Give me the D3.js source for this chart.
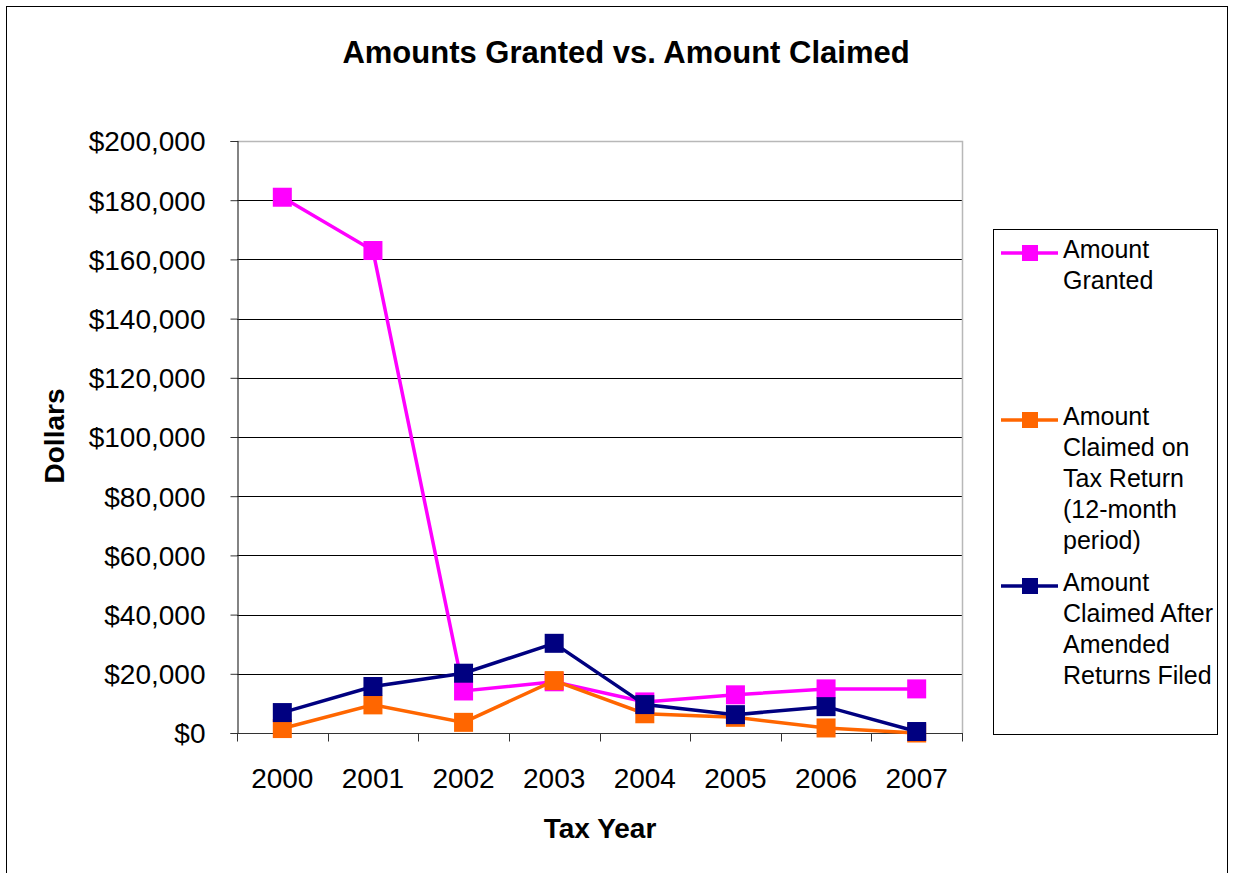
<!DOCTYPE html>
<html>
<head>
<meta charset="utf-8">
<script src="https://cdn.jsdelivr.net/npm/d3@7"></script>
<style>
  body { margin: 0; background: #fff; }
  svg { display: block; font-family: "Liberation Sans", Arial, sans-serif; }
</style>
</head>
<body>
<script>
var years = ["2000", "2001", "2002", "2003", "2004", "2005", "2006", "2007"];
var granted = [181000, 163000, 14200, 17300, 10500, 12900, 14900, 14900];
var claimed = [1500, 9500, 3600, 17700, 6500, 5300, 1700, 0];
var amended = [6900, 15700, 20200, 30300, 9600, 6200, 8900, 500];
var yTicks = [0, 20000, 40000, 60000, 80000, 100000, 120000, 140000, 160000, 180000, 200000];

var series = [
  {name: ["Amount", "Granted"], values: granted, color: "#ff00ff", legendY: 253},
  {name: ["Amount", "Claimed on", "Tax Return", "(12-month", "period)"], values: claimed, color: "#ff6600", legendY: 420},
  {name: ["Amount", "Claimed After", "Amended", "Returns Filed"], values: amended, color: "#000080", legendY: 586}
];

var W = 1235, H = 873;
var plot = {left: 237, right: 962, top: 141, bottom: 733};

var svg = d3.select("body").append("svg")
    .attr("width", W)
    .attr("height", H);

// outer chart border
svg.append("rect")
    .attr("x", 6.5).attr("y", 6.5)
    .attr("width", 1221).attr("height", 880)
    .attr("fill", "none").attr("stroke", "#000").attr("stroke-width", 1);

var x = d3.scaleBand().domain(years).range([plot.left, plot.right]);
var y = d3.scaleLinear().domain([0, 200000]).range([plot.bottom, plot.top]);

// gridlines
svg.append("g").selectAll("line")
    .data(yTicks.slice(1, -1))
  .enter().append("line")
    .attr("x1", plot.left).attr("x2", plot.right)
    .attr("y1", function(d) { return Math.round(y(d)) + 0.5; })
    .attr("y2", function(d) { return Math.round(y(d)) + 0.5; })
    .attr("stroke", "#000").attr("stroke-width", 1);

// plot area frame (top/right gray)
svg.append("path")
    .attr("d", "M" + plot.left + "," + (plot.top + 0.5) + "H" + (plot.right + 0.5) + "V" + plot.bottom)
    .attr("fill", "none").attr("stroke", "#b8b8b8").attr("stroke-width", 1.5);

// y axis
var yAxis = d3.axisLeft(y)
    .tickValues(yTicks)
    .tickSize(7)
    .tickPadding(25)
    .tickFormat(function(d) { return "$" + d3.format(",")(d); });

var gy = svg.append("g")
    .attr("transform", "translate(" + (plot.left + 0.5) + ",0)")
    .call(yAxis);
gy.select(".domain").attr("stroke", "#333").attr("stroke-width", 1.2);
gy.selectAll(".tick line").attr("stroke", "#333");
gy.selectAll(".tick text")
    .attr("font-size", 28)
    .attr("font-family", "Liberation Sans, Arial, sans-serif")
    .attr("fill", "#000")
    .attr("dy", "0.35em");

// x axis: ticks between categories
var gx = svg.append("g")
    .attr("transform", "translate(0," + (plot.bottom + 0.5) + ")");
gx.append("line")
    .attr("x1", plot.left).attr("x2", plot.right + 1)
    .attr("stroke", "#333").attr("stroke-width", 1.2);
var bounds = years.map(function(d) { return x(d); }).concat([plot.right]);
gx.selectAll(".tk")
    .data(bounds)
  .enter().append("line")
    .attr("class", "tk")
    .attr("x1", function(d) { return Math.round(d) + 0.5; })
    .attr("x2", function(d) { return Math.round(d) + 0.5; })
    .attr("y1", 0).attr("y2", 8)
    .attr("stroke", "#333");
gx.selectAll(".lbl")
    .data(years)
  .enter().append("text")
    .attr("class", "lbl")
    .attr("x", function(d) { return x(d) + x.bandwidth() / 2; })
    .attr("y", 54)
    .attr("text-anchor", "middle")
    .attr("font-size", 28)
    .text(function(d) { return d; });

// series lines + markers
var line = d3.line()
    .x(function(d, i) { return x(years[i]) + x.bandwidth() / 2; })
    .y(function(d) { return y(d); });

var ms = 19;
series.forEach(function(s) {
  var g = svg.append("g");
  g.append("path")
      .attr("d", line(s.values))
      .attr("fill", "none")
      .attr("stroke", s.color)
      .attr("stroke-width", 3.5);
  g.selectAll("rect")
      .data(s.values)
    .enter().append("rect")
      .attr("x", function(d, i) { return x(years[i]) + x.bandwidth() / 2 - ms / 2; })
      .attr("y", function(d) { return y(d) - ms / 2; })
      .attr("width", ms).attr("height", ms)
      .attr("fill", s.color);
});

// title
svg.append("text")
    .attr("x", 626).attr("y", 63)
    .attr("text-anchor", "middle")
    .attr("font-size", 31)
    .attr("font-weight", "bold")
    .text("Amounts Granted vs. Amount Claimed");

// axis titles
svg.append("text")
    .attr("x", 600).attr("y", 838)
    .attr("text-anchor", "middle")
    .attr("font-size", 28)
    .attr("font-weight", "bold")
    .text("Tax Year");

svg.append("text")
    .attr("transform", "translate(64,436) rotate(-90)")
    .attr("text-anchor", "middle")
    .attr("font-size", 28)
    .attr("font-weight", "bold")
    .text("Dollars");

// legend
var lg = svg.append("g");
lg.append("rect")
    .attr("x", 993.5).attr("y", 229.5)
    .attr("width", 224).attr("height", 505)
    .attr("fill", "#fff").attr("stroke", "#000").attr("stroke-width", 1);

series.forEach(function(s) {
  lg.append("line")
      .attr("x1", 1001).attr("x2", 1058)
      .attr("y1", s.legendY).attr("y2", s.legendY)
      .attr("stroke", s.color).attr("stroke-width", 3.5);
  lg.append("rect")
      .attr("x", 1030 - 8).attr("y", s.legendY - 8)
      .attr("width", 16).attr("height", 16)
      .attr("fill", s.color);
  var t = lg.append("text")
      .attr("x", 1063)
      .attr("y", s.legendY + 5)
      .attr("font-size", 25);
  t.selectAll("tspan")
      .data(s.name)
    .enter().append("tspan")
      .attr("x", 1063)
      .attr("dy", function(d, i) { return i === 0 ? 0 : 31; })
      .text(function(d) { return d; });
});
</script>
</body>
</html>
